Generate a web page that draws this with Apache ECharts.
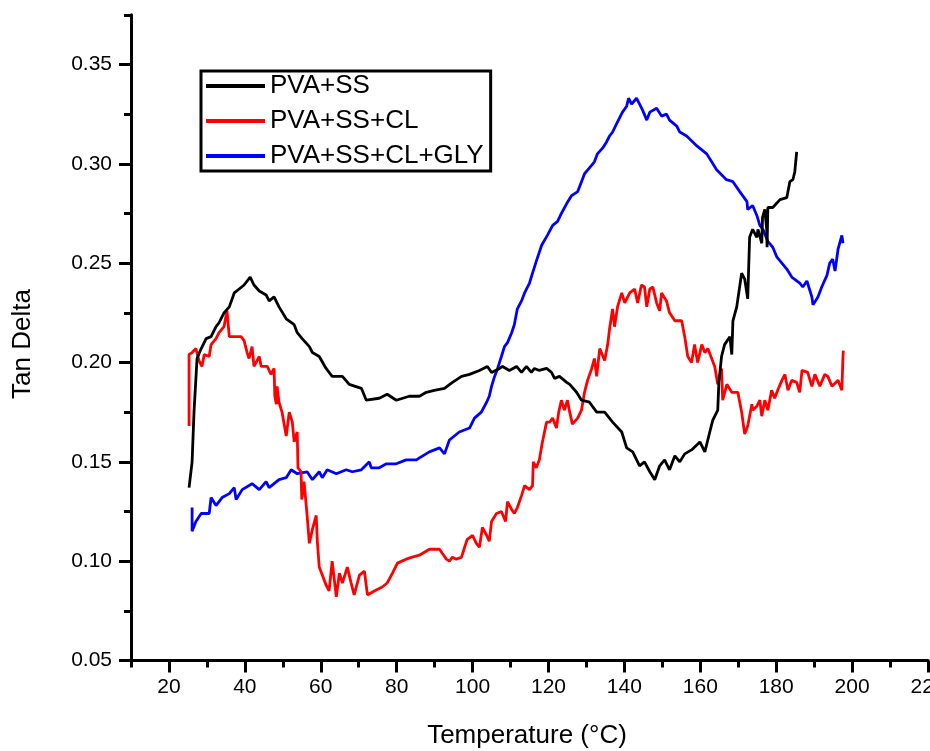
<!DOCTYPE html>
<html>
<head>
<meta charset="utf-8">
<title>Tan Delta vs Temperature</title>
<script src="https://cdn.jsdelivr.net/npm/echarts@6/dist/echarts.min.js"></script>
<style>
  html, body { margin: 0; padding: 0; background: #fff; }
  #chart { width: 930px; height: 751px; }
</style>
</head>
<body>
<div id="chart"></div>
<script>
// Tan delta readings, [temperature (°C), tan delta]
const pvaSS = [
  [25.3,0.137],[26.1,0.150],[26.6,0.175],[27.4,0.202],[28.5,0.207],[29.8,0.212],[31.1,0.213],[32.4,0.218],
  [33.2,0.220],[34.5,0.225],[35.9,0.228],[37.2,0.235],[38.5,0.237],[39.8,0.239],[41.4,0.243],[42.4,0.239],
  [43.8,0.236],[45.6,0.234],[46.4,0.231],[47.7,0.233],[49.0,0.228],[50.9,0.222],[53.0,0.219],[53.8,0.215],
  [55.1,0.212],[57.0,0.208],[57.8,0.205],[59.6,0.203],[61.4,0.197],[63.0,0.193],[65.7,0.193],[67.5,0.189],
  [70.7,0.187],[72.0,0.181],[75.4,0.182],[77.5,0.184],[79.9,0.181],[83.3,0.183],[86.0,0.183],[87.8,0.185],
  [89.9,0.186],[92.6,0.187],[94.7,0.190],[97.1,0.193],[99.2,0.194],[101.8,0.196],[103.9,0.198],[105.0,0.195],
  [107.1,0.197],[107.9,0.198],[109.7,0.196],[111.6,0.198],[112.9,0.195],[114.2,0.198],[115.5,0.195],[116.3,0.197],
  [117.6,0.196],[119.5,0.197],[120.8,0.195],[121.6,0.192],[122.9,0.193],[124.8,0.190],[125.6,0.189],[127.4,0.185],
  [128.7,0.181],[130.8,0.180],[132.7,0.175],[134.8,0.175],[136.9,0.170],[139.3,0.165],[140.6,0.157],[142.2,0.155],
  [144.0,0.148],[145.3,0.150],[146.7,0.145],[148.0,0.141],[149.3,0.148],[150.6,0.151],[151.9,0.146],[153.3,0.153],
  [154.6,0.150],[155.9,0.154],[157.7,0.156],[159.9,0.160],[161.2,0.155],[162.5,0.165],[163.3,0.171],[164.6,0.176],
  [164.9,0.190],[165.6,0.203],[166.4,0.209],[167.8,0.213],[168.3,0.204],[168.6,0.221],[169.6,0.228],[170.9,0.245],
  [171.7,0.242],[172.5,0.232],[173.0,0.263],[173.8,0.267],[174.9,0.263],[175.2,0.267],[176.2,0.260],[176.4,0.273],
  [177.0,0.277],[177.5,0.267],[177.6,0.258],[177.8,0.278],[179.1,0.278],[181.0,0.282],[182.8,0.283],[183.6,0.291],
  [184.4,0.292],[184.9,0.296],[185.4,0.306]
];

const pvaSSCL = [
  [25.3,0.168],[25.3,0.204],[26.1,0.205],[27.1,0.207],[27.9,0.201],[28.7,0.198],[29.3,0.204],[30.6,0.203],
  [31.1,0.209],[32.4,0.212],[33.2,0.215],[34.5,0.218],[35.3,0.226],[35.9,0.213],[37.2,0.213],[39.0,0.213],
  [39.8,0.211],[40.6,0.205],[41.1,0.202],[41.9,0.208],[42.4,0.198],[43.8,0.203],[44.3,0.198],[45.9,0.198],
  [46.9,0.194],[47.7,0.197],[47.9,0.183],[48.3,0.179],[48.5,0.188],[49.0,0.180],[49.8,0.175],[50.9,0.163],
  [51.7,0.175],[52.5,0.170],[53.0,0.160],[53.8,0.165],[54.0,0.147],[54.8,0.145],[55.0,0.131],[55.6,0.140],
  [56.4,0.123],[57.0,0.109],[57.8,0.116],[58.8,0.123],[59.1,0.110],[59.6,0.097],[60.4,0.093],[61.4,0.088],
  [62.2,0.085],[63.0,0.100],[64.1,0.082],[64.9,0.094],[65.7,0.089],[67.0,0.097],[68.0,0.089],[68.8,0.083],
  [70.2,0.093],[71.5,0.095],[72.3,0.083],[74.1,0.085],[76.2,0.087],[77.5,0.089],[78.9,0.094],[80.2,0.099],
  [82.5,0.101],[84.1,0.102],[86.0,0.103],[88.6,0.106],[91.3,0.106],[92.0,0.104],[93.1,0.101],[93.9,0.100],
  [94.7,0.102],[95.7,0.101],[97.1,0.102],[97.9,0.107],[98.6,0.111],[100.0,0.113],[101.0,0.109],[101.8,0.107],
  [102.6,0.117],[103.7,0.113],[104.4,0.110],[105.0,0.120],[106.3,0.124],[107.6,0.125],[108.7,0.120],[109.2,0.130],
  [110.3,0.126],[111.0,0.124],[111.8,0.127],[112.9,0.133],[113.7,0.138],[115.0,0.136],[115.8,0.138],[116.0,0.150],
  [116.8,0.147],[117.6,0.151],[118.4,0.160],[119.5,0.170],[120.3,0.170],[121.1,0.172],[122.1,0.167],[122.7,0.175],
  [123.4,0.181],[124.2,0.176],[125.0,0.181],[125.6,0.175],[126.3,0.169],[127.7,0.172],[128.7,0.176],[129.5,0.185],
  [130.3,0.191],[131.4,0.197],[132.1,0.202],[132.7,0.193],[133.5,0.207],[134.8,0.201],[135.6,0.209],[136.1,0.217],
  [136.9,0.227],[137.4,0.218],[138.2,0.228],[139.3,0.235],[140.1,0.230],[141.4,0.235],[142.7,0.237],[143.5,0.230],
  [144.5,0.239],[145.3,0.238],[145.9,0.228],[146.7,0.237],[147.5,0.238],[148.5,0.230],[149.3,0.226],[149.8,0.235],
  [151.1,0.231],[151.9,0.225],[153.3,0.221],[155.1,0.221],[155.9,0.213],[156.7,0.203],[157.7,0.200],[158.5,0.209],
  [159.3,0.200],[160.4,0.209],[161.2,0.205],[162.0,0.207],[163.0,0.202],[163.8,0.198],[164.6,0.189],[165.6,0.197],
  [165.9,0.181],[167.0,0.189],[168.3,0.185],[169.9,0.185],[170.9,0.175],[171.7,0.164],[172.5,0.168],[173.6,0.179],
  [173.8,0.176],[174.9,0.178],[175.7,0.181],[176.2,0.173],[177.0,0.181],[177.8,0.176],[178.8,0.186],[179.6,0.182],
  [180.4,0.186],[181.5,0.191],[182.3,0.194],[183.1,0.186],[184.1,0.191],[185.4,0.190],[186.2,0.185],[186.8,0.196],
  [188.3,0.195],[189.4,0.188],[190.2,0.194],[191.5,0.188],[192.8,0.194],[193.6,0.193],[194.7,0.188],[196.3,0.191],
  [197.3,0.186],[197.6,0.203],[197.7,0.206]
];

const pvaSSCLGLY = [
  [26.1,0.127],[26.1,0.115],[27.1,0.120],[28.5,0.124],[30.6,0.124],[31.1,0.132],[32.4,0.128],[34.0,0.132],
  [35.9,0.134],[37.2,0.137],[37.7,0.131],[39.3,0.136],[41.9,0.139],[43.8,0.136],[45.6,0.140],[46.4,0.137],
  [49.0,0.141],[50.9,0.142],[52.2,0.146],[53.8,0.144],[56.4,0.145],[57.8,0.141],[59.6,0.145],[60.4,0.142],
  [61.7,0.146],[64.1,0.144],[66.7,0.146],[68.3,0.145],[70.7,0.146],[72.8,0.150],[73.3,0.147],[75.4,0.147],
  [77.3,0.149],[79.9,0.149],[82.5,0.151],[85.2,0.151],[86.0,0.152],[88.6,0.155],[91.3,0.157],[92.6,0.154],
  [93.9,0.161],[96.5,0.165],[99.2,0.167],[100.5,0.172],[102.3,0.175],[103.7,0.180],[104.4,0.183],[105.0,0.188],
  [105.8,0.193],[106.6,0.197],[107.6,0.203],[108.4,0.208],[109.2,0.210],[110.3,0.215],[111.0,0.219],[111.8,0.227],
  [112.9,0.231],[113.7,0.235],[115.0,0.240],[115.8,0.245],[116.8,0.251],[118.2,0.259],[119.7,0.264],[121.1,0.269],
  [122.4,0.271],[123.4,0.275],[124.8,0.280],[126.1,0.284],[127.7,0.286],[128.7,0.291],[129.5,0.295],[130.8,0.298],
  [132.1,0.301],[132.9,0.305],[134.3,0.308],[135.3,0.311],[136.1,0.314],[136.9,0.316],[137.9,0.320],[138.7,0.323],
  [139.5,0.326],[140.6,0.329],[141.1,0.333],[141.9,0.330],[143.2,0.333],[144.0,0.330],[144.8,0.327],[145.9,0.322],
  [146.7,0.326],[148.5,0.328],[149.8,0.324],[151.1,0.325],[151.9,0.322],[153.8,0.319],[154.6,0.316],[156.4,0.314],
  [159.1,0.309],[161.7,0.305],[163.0,0.301],[164.3,0.297],[166.9,0.292],[168.6,0.291],[170.4,0.286],[172.3,0.281],
  [172.5,0.277],[173.8,0.279],[174.9,0.274],[175.7,0.269],[176.5,0.267],[177.8,0.261],[179.1,0.258],[180.2,0.253],
  [181.5,0.250],[182.8,0.247],[184.1,0.243],[186.2,0.240],[187.0,0.238],[188.1,0.241],[189.4,0.233],[189.7,0.229],
  [191.0,0.233],[192.0,0.238],[193.4,0.244],[194.1,0.250],[194.9,0.252],[195.5,0.246],[196.3,0.257],[197.3,0.264],
  [197.6,0.260]
];

const seriesNames = ['PVA+SS', 'PVA+SS+CL', 'PVA+SS+CL+GLY'];
const seriesColors = ['#000000', '#ff0000', '#0000ff'];
const seriesData = [pvaSS, pvaSSCL, pvaSSCLGLY];

// Axis ranges and tick steps
const xRange = [10, 220];
const xMajorStart = 20, xMajorStep = 20, xMinorStep = 10;
const yRange = [0.05, 0.375];
const yMajorEnd = 0.35, yMajorStep = 0.05, yMinorStep = 0.025;

const FONT = 'Liberation Sans, Arial, sans-serif';
const BLACK = '#000';

// plot-area geometry
const plotLeft = 131, plotRight = 2, plotTop = 14.8, plotBottom = 90.5;
const pxPerX = (930 - plotLeft - plotRight) / (xRange[1] - xRange[0]);
const plotH = 751 - plotTop - plotBottom;
const pxPerY = plotH / (yRange[1] - yRange[0]);

const chart = echarts.init(document.getElementById('chart'), null, { renderer: 'canvas' });

const hiddenAxis = { show: false };
const gridBase = { outerBoundsMode: 'none', containLabel: false };

chart.setOption({
  animation: false,
  backgroundColor: '#fff',
  grid: [
    // data area with minor ticks
    Object.assign({ left: plotLeft, right: plotRight, top: plotTop, bottom: plotBottom }, gridBase),
    // major x ticks + labels
    Object.assign({ left: plotLeft + (xMajorStart - xRange[0]) * pxPerX, right: plotRight, top: plotTop, bottom: plotBottom }, gridBase),
    // major y ticks + labels
    Object.assign({ left: plotLeft, right: plotRight, top: plotTop + (yRange[1] - yMajorEnd) * pxPerY, bottom: plotBottom }, gridBase)
  ],
  xAxis: [
    {
      gridIndex: 0, type: 'value', min: xRange[0], max: xRange[1], interval: xMinorStep,
      axisLine: { show: true, onZero: false, lineStyle: { color: BLACK, width: 3 } },
      axisTick: { show: true, inside: false, length: 7, lineStyle: { color: BLACK, width: 3 } },
      axisLabel: { show: false },
      splitLine: { show: false }
    },
    {
      gridIndex: 1, type: 'value', min: xMajorStart, max: xRange[1], interval: xMajorStep,
      axisLine: { show: false, onZero: false },
      axisTick: { show: true, inside: false, length: 12, lineStyle: { color: BLACK, width: 3 } },
      axisLabel: { show: true, margin: 16, color: BLACK, fontFamily: FONT, fontSize: 21,
        showMinLabel: true, showMaxLabel: true, hideOverlap: false },
      splitLine: { show: false }
    },
    Object.assign({ gridIndex: 2, type: 'value', min: xRange[0], max: xRange[1] }, hiddenAxis)
  ],
  yAxis: [
    {
      gridIndex: 0, type: 'value', min: yRange[0], max: yRange[1], interval: yMinorStep,
      axisLine: { show: true, onZero: false, lineStyle: { color: BLACK, width: 3 } },
      axisTick: { show: true, inside: false, length: 7, lineStyle: { color: BLACK, width: 3 } },
      axisLabel: { show: false },
      splitLine: { show: false }
    },
    Object.assign({ gridIndex: 1, type: 'value', min: yRange[0], max: yRange[1] }, hiddenAxis),
    {
      gridIndex: 2, type: 'value', min: yRange[0], max: yMajorEnd, interval: yMajorStep,
      axisLine: { show: false, onZero: false },
      axisTick: { show: true, inside: false, length: 12, lineStyle: { color: BLACK, width: 3 } },
      axisLabel: { show: true, margin: 19, color: BLACK, fontFamily: FONT, fontSize: 21,
        formatter: v => v.toFixed(2) },
      splitLine: { show: false }
    }
  ],
  legend: {
    orient: 'vertical',
    left: 201, top: 71,
    data: seriesNames,
    icon: 'rect',
    itemWidth: 59, itemHeight: 4,
    itemGap: 9,
    padding: [2, 7, 2, 5],
    borderColor: BLACK, borderWidth: 3,
    backgroundColor: '#fff',
    textStyle: { color: BLACK, fontFamily: FONT, fontSize: 26, lineHeight: 26 }
  },
  graphic: [
    {
      type: 'text', x: 23, y: 344, rotation: Math.PI / 2,
      style: { text: 'Tan Delta', fill: BLACK, font: '26px ' + FONT, align: 'center', verticalAlign: 'middle' }
    },
    {
      type: 'text', x: 527, y: 736,
      style: { text: 'Temperature (°C)', fill: BLACK, font: '26px ' + FONT, align: 'center', verticalAlign: 'middle' }
    }
  ],
  series: seriesNames.map((name, i) => ({
    name,
    type: 'line',
    xAxisIndex: 0, yAxisIndex: 0,
    data: seriesData[i],
    showSymbol: false,
    symbol: 'none',
    color: seriesColors[i],
    lineStyle: { color: seriesColors[i], width: 2.8 },
    itemStyle: { color: seriesColors[i] },
    z: 3 - i
  }))
});
</script>
</body>
</html>
